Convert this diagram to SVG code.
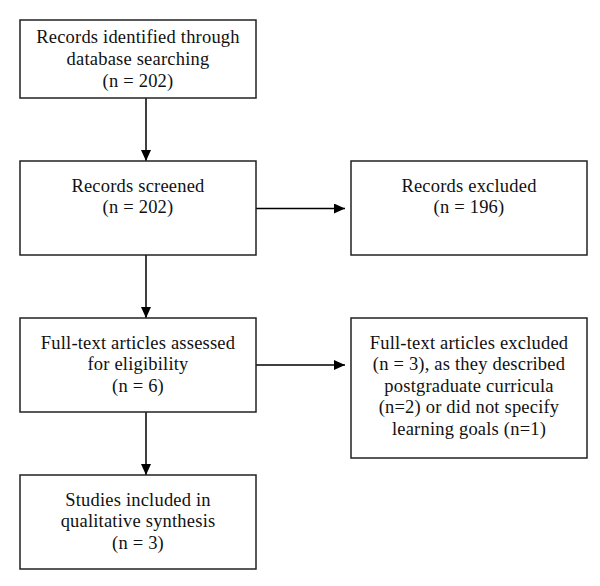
<svg xmlns="http://www.w3.org/2000/svg" width="600" height="586" viewBox="0 0 600 586">
<defs>
<marker id="ah" viewBox="0 0 11 10" refX="11" refY="5" markerWidth="11" markerHeight="10" markerUnits="userSpaceOnUse" orient="auto">
<path d="M0,0 L11,5 L0,10 Z" fill="#000"/>
</marker>
<style>
.box{fill:#fff;stroke:#222;stroke-width:1.5}
.t{font-family:"Liberation Serif","Times New Roman",serif;font-size:18.5px;fill:#111;text-anchor:middle;letter-spacing:0.2px}
.c{stroke:#000;stroke-width:1.5;fill:none;marker-end:url(#ah)}
</style>
</defs>
<rect width="600" height="586" fill="#fff"/>
<g id="connectors">
<line class="c" x1="146" y1="98" x2="146" y2="161"/>
<line class="c" x1="146" y1="255" x2="146" y2="318"/>
<line class="c" x1="146" y1="412" x2="146" y2="475"/>
<line class="c" x1="256" y1="208.5" x2="345" y2="208.5"/>
<line class="c" x1="256" y1="365" x2="345" y2="365"/>
</g>
<g id="identified">
<rect class="box" x="20" y="20" width="236" height="78"/>
<text class="t" x="138" y="43">Records identified through</text>
<text class="t" x="138" y="65">database searching</text>
<text class="t" x="138" y="87">(n = 202)</text>
</g>
<g id="screened">
<rect class="box" x="20" y="161" width="236" height="94"/>
<text class="t" x="138" y="192">Records screened</text>
<text class="t" x="138" y="213">(n = 202)</text>
</g>
<g id="excluded">
<rect class="box" x="351" y="161" width="236" height="94"/>
<text class="t" x="469" y="192">Records excluded</text>
<text class="t" x="469" y="213">(n = 196)</text>
</g>
<g id="assessed">
<rect class="box" x="20" y="318" width="236" height="94"/>
<text class="t" x="138" y="349">Full-text articles assessed</text>
<text class="t" x="138" y="370">for eligibility</text>
<text class="t" x="138" y="392">(n = 6)</text>
</g>
<g id="fulltext-excluded">
<rect class="box" x="351" y="318" width="236" height="140"/>
<text class="t" x="469" y="349">Full-text articles excluded</text>
<text class="t" x="469" y="370">(n = 3), as they described</text>
<text class="t" x="469" y="392">postgraduate curricula</text>
<text class="t" x="469" y="413">(n=2) or did not specify</text>
<text class="t" x="469" y="435">learning goals (n=1)</text>
</g>
<g id="included">
<rect class="box" x="20" y="475" width="236" height="94"/>
<text class="t" x="138" y="506">Studies included in</text>
<text class="t" x="138" y="527">qualitative synthesis</text>
<text class="t" x="138" y="549">(n = 3)</text>
</g>
</svg>
